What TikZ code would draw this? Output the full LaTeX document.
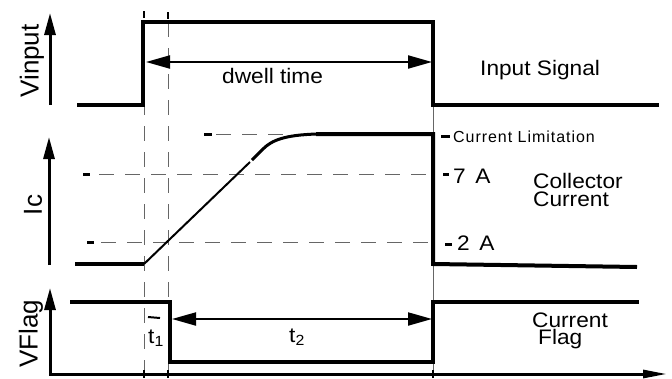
\documentclass[tikz,border=0pt]{standalone}
\usepackage{fontspec}
\setmainfont{Liberation Sans}
\usetikzlibrary{arrows.meta}
\newcommand{\wide}[1]{\scalebox{1.08}[1]{#1}}
\begin{document}
\begin{tikzpicture}[x=1pt,y=-1pt,
  sig/.style={line width=4pt, line cap=butt, line join=miter},
  risesig/.style={line width=2pt},
  axisarrow/.style={line width=3pt, -{Triangle[length=22pt,width=11pt]}},
  timearrow/.style={line width=3pt, -{Triangle[length=24pt,width=8pt]}},
  guide/.style={line width=0.9pt, black!60, dash pattern=on 15pt off 11pt},
  tickmark/.style={line width=3pt},
  vtick/.style={line width=2pt},
  dimarrow/.style={line width=2pt, {Triangle[length=24pt,width=13pt]}-{Triangle[length=24pt,width=13pt]}},
  lbl/.style={inner sep=0pt, font=\fontsize{21}{21}\selectfont},
  smlbl/.style={inner sep=0pt, font=\fontsize{16}{16}\selectfont\addfontfeature{LetterSpace=6}},
  axlbl/.style={inner sep=0pt, rotate=90, font=\fontsize{26}{26}\selectfont},
]
\fill[white] (0,0) rectangle (672,378);
\useasboundingbox (0,0) rectangle (672,378);

% ---------- guides ----------
\draw[guide] (144,22) -- (144,370);
\draw[guide] (168,22) -- (168,370);
\draw[vtick] (144,11) -- (144,18);
\draw[vtick] (168,12) -- (168,19);
\draw[black!60, line width=0.9pt] (433,107) -- (433,370);

\draw[guide] (216,134) -- (300,134);
\draw[tickmark] (204,134) -- (212,134);
\draw[guide] (99,174) -- (431,174);
\draw[tickmark] (83,174) -- (90,174);
\draw[guide] (101,242) -- (431,242);
\draw[tickmark] (87,242) -- (94,242);

% ---------- top panel: input ----------
\draw[axisarrow] (50,105) -- (50,13);
\node[axlbl] (vin) at (32,61) {Vinput};
\draw[sig] (77,105) -- (143,105) -- (143,22) -- (433,22) -- (433,105) -- (659,105);
\coordinate (dwA) at (146,62);
\coordinate (dwB) at (432,62);
\draw[dimarrow] (dwA) -- (dwB);
\node[lbl, anchor=base west] (dwell) at (222,83) {\wide{dwell time}};
\node[lbl, anchor=base west] (insig) at (480,75) {\wide{Input Signal}};

% ---------- middle panel: collector current ----------
\draw[axisarrow] (49,265) -- (49,137);
\node[axlbl] (ic) at (33,205) {Ic};
\draw[sig] (75,264) -- (144,264);
\draw[risesig] (144,264) -- (250,162);
\draw[line width=3pt] (252,160) -- (263,149) .. controls (272,140) and (285,135) .. (317,134);
\draw[sig] (316,134) -- (433,134) -- (433,264) -- (637,267);

\draw[tickmark] (441,136) -- (450,136);
\node[smlbl, anchor=base west] (clim) at (453,142) {Current Limitation};
\draw[tickmark] (443,174) -- (449,174);
\node[lbl, anchor=base west] (sevenA) at (453,183) {\wide{7\hspace{3pt} A}};
\draw[tickmark] (445,244) -- (452,244);
\node[lbl, anchor=base west] (twoA) at (457,250) {\wide{2\hspace{3pt} A}};
\node[lbl, anchor=base west] (coll) at (533,188) {\wide{Collector}};
\node[lbl, anchor=base west] (curr) at (533,206) {\wide{Current}};

% ---------- bottom panel: flag ----------
\draw[axisarrow] (50,374) -- (50,288);
\draw[timearrow] (49,374) -- (667,374);
\node[axlbl] (vflag) at (31,334) {VFlag};
\draw[vtick] (144,370) -- (144,378);
\draw[vtick] (168,370) -- (168,378);
\draw[vtick] (433,370) -- (433,378);
\draw[sig] (70,302) -- (170,302) -- (170,362) -- (433,362) -- (433,302) -- (639,302);

\draw[line width=2pt] (148,317) -- (160,318);
\coordinate (tA) at (172,319);
\coordinate (tB) at (432,319);
\draw[dimarrow] (tA) -- (tB);
\node[lbl, anchor=base west] (t1) at (148,343) {\wide{t\textsubscript{1}}};
\node[lbl, anchor=base west] (t2) at (289,342) {\wide{t\textsubscript{2}}};
\node[lbl, anchor=base west] (cf1) at (532,327) {\wide{Current}};
\node[lbl, anchor=base west] (cf2) at (538,344) {\wide{Flag}};
\end{tikzpicture}
\end{document}
